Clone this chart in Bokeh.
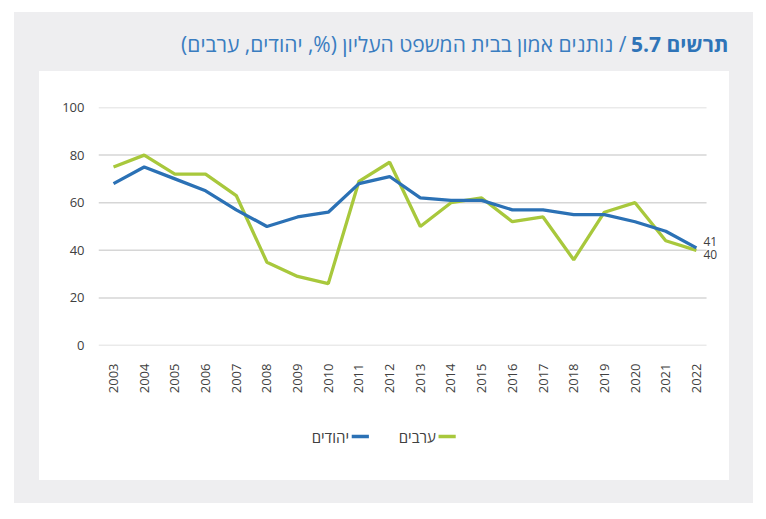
from math import pi
from bokeh.plotting import figure
from bokeh.layouts import column
from bokeh.models import Range1d, FixedTicker, Label
from bokeh.core.properties import value
from bokeh.embed import file_html
from bokeh.resources import INLINE

years = list(range(2003, 2023))
jews = [68, 75, 70, 65, 57, 50, 54, 56, 68, 71, 62, 61, 61, 57, 57, 55, 55, 52, 48, 41]
arabs = [75, 80, 72, 72, 63, 35, 29, 26, 69, 77, 50, 60, 62, 52, 54, 36, 56, 60, 44, 40]
y_ticks = [0, 20, 40, 60, 80, 100]
series_names = ["יהודים", "ערבים"]
title_bold = "תרשים 5.7"
title_rest = "/ נותנים אמון בבית המשפט העליון (%, יהודים, ערבים)"

BLUE = "#2b71b5"
GREEN = "#a8c83c"
GRAY_TXT = "#404040"
GRAY_BG = "#eeeef0"
FONT = "Open Sans"


def blank(w, h, fill):
    f = figure(width=w, height=h, output_backend="svg", toolbar_location=None,
               x_range=Range1d(0, w), y_range=Range1d(0, h),
               min_border=0, x_axis_type=None, y_axis_type=None)
    f.border_fill_color = fill
    f.background_fill_color = fill
    f.outline_line_color = None
    f.grid.visible = False
    return f


# ---- title ----
tf = blank(739, 59, GRAY_BG)
tf.text(x=[714], y=[28], text=[title_bold], text_font=value(FONT), text_font_size="21px",
        text_font_style="bold", text_color="#2f74b8", text_align="right", text_baseline="middle")
tf.text(x=[612], y=[28], text=["\u202b" + title_rest + "\u202c"], text_font=value(FONT),
        text_font_size="21px", text_color="#3a7dc0", text_align="right", text_baseline="middle")

# ---- main chart ----
x0, x1, x_grid_end = 2002.51, 2022.85, 2022.33
p = figure(output_backend="svg", toolbar_location=None,
           x_range=Range1d(x0, x1), y_range=Range1d(0, 100),
           min_border_left=59, min_border_right=7, min_border_top=36, min_border_bottom=65,
           frame_width=624, frame_height=238)
p.border_fill_color = "white"
p.background_fill_color = "white"
p.outline_line_color = None
p.grid.visible = False

p.segment(x0=[x0] * len(y_ticks), x1=[x_grid_end] * len(y_ticks), y0=y_ticks, y1=y_ticks,
          line_color="#d6d6d6", line_width=1.5, level="underlay")
p.line(years, arabs, line_color=GREEN, line_width=3.3)
p.line(years, jews, line_color=BLUE, line_width=3.3)

p.yaxis.ticker = FixedTicker(ticks=y_ticks)
p.xaxis.ticker = FixedTicker(ticks=years)
for ax in (p.xaxis, p.yaxis):
    ax.axis_line_color = None
    ax.major_tick_line_color = None
    ax.minor_tick_line_color = None
    ax.major_label_text_font = FONT
    ax.major_label_text_font_size = "13px"
    ax.major_label_text_color = GRAY_TXT
p.yaxis.major_label_standoff = 8
p.xaxis.major_label_standoff = 12
p.xaxis.major_label_orientation = pi / 2

p.add_layout(Label(x=years[-1], y=jews[-1], text=str(jews[-1]), x_offset=7, y_offset=6,
                   text_font=FONT, text_font_size="12px", text_color=GRAY_TXT,
                   text_align="left", text_baseline="middle"))
p.add_layout(Label(x=years[-1], y=arabs[-1], text=str(arabs[-1]), x_offset=7, y_offset=-4,
                   text_font=FONT, text_font_size="12px", text_color=GRAY_TXT,
                   text_align="left", text_baseline="middle"))

# ---- legend (RTL: label left of swatch) ----
lf = blank(690, 70, "white")
lf.segment(x0=[376, 280], x1=[395, 299], y0=[44, 44], y1=[44, 44],
           line_color=[GREEN, BLUE], line_width=3.3)
lf.text(x=[373, 277], y=[44, 44], text=[series_names[1], series_names[0]],
        text_font=value(FONT), text_font_size="15px", text_color=GRAY_TXT,
        text_align="right", text_baseline="middle")

white = column(p, lf, margin=(0, 24, 23, 25), spacing=0, styles={"background-color": "white"})
root = column(tf, white, spacing=0, margin=(12, 0, 0, 14), styles={"background-color": GRAY_BG})

open("out.html", "w").write(file_html(root, INLINE))
